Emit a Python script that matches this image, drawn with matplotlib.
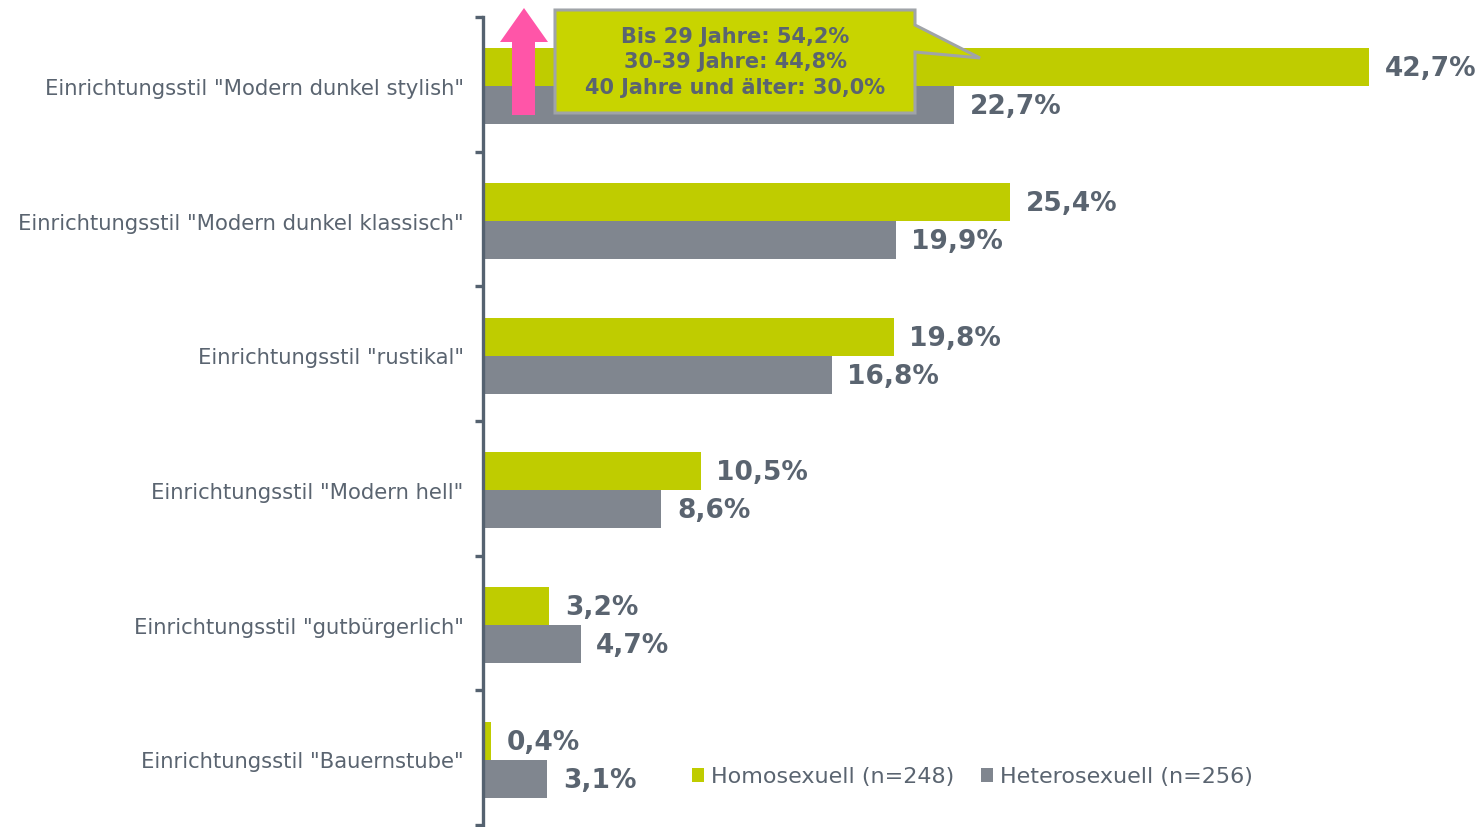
import matplotlib.pyplot as plt
from matplotlib.patches import Polygon
import numpy as np

# ------------------- Data -------------------
categories = [
    'Einrichtungsstil "Modern dunkel stylish"',
    'Einrichtungsstil "Modern dunkel klassisch"',
    'Einrichtungsstil "rustikal"',
    'Einrichtungsstil "Modern hell"',
    'Einrichtungsstil "gutbürgerlich"',
    'Einrichtungsstil "Bauernstube"',
]
homo = [42.7, 25.4, 19.8, 10.5, 3.2, 0.4]
hetero = [22.7, 19.9, 16.8, 8.6, 4.7, 3.1]
series_names = ["Homosexuell (n=248)", "Heterosexuell (n=256)"]
callout_lines = ["Bis 29 Jahre: 54,2%", "30-39 Jahre: 44,8%", "40 Jahre und älter: 30,0%"]

GREEN = "#BFCC00"
GRAY = "#80868F"
TEXT = "#5A6470"
SPINE = "#556270"

W, H = 1484, 827
fig = plt.figure(figsize=(W / 100, H / 100), dpi=100)
ax = fig.add_axes([483 / W, 2 / H, 1 - 483 / W, 808 / H])

y = np.arange(len(categories))
bh = 0.282
ax.barh(y - bh / 2 + 0.015, homo, height=bh, color=GREEN, label=series_names[0])
ax.barh(y + bh / 2 + 0.015, hetero, height=bh, color=GRAY, label=series_names[1])

ax.set_xlim(0, (W - 483) / 20.75)
ax.set_ylim(len(categories) - 0.5, -0.5)

off = 0.75
for i in range(len(categories)):
    ax.text(homo[i] + off, y[i] - bh / 2 + 0.03, f"{homo[i]:.1f}%".replace(".", ","),
            va="center", ha="left", fontsize=19, fontweight="bold", color=TEXT)
    ax.text(hetero[i] + off, y[i] + bh / 2 + 0.03, f"{hetero[i]:.1f}%".replace(".", ","),
            va="center", ha="left", fontsize=19, fontweight="bold", color=TEXT)

# spines and ticks
for s in ["top", "right", "bottom"]:
    ax.spines[s].set_visible(False)
ax.spines["left"].set_color(SPINE)
ax.spines["left"].set_linewidth(2.4)
ax.set_xticks([])
ax.set_yticks(np.arange(-0.5, len(categories)), labels=[])
ax.tick_params(axis="y", which="major", length=6, width=2.4, color=SPINE)
ax.set_yticks(y + 0.02, labels=categories, minor=True)
ax.tick_params(axis="y", which="minor", length=0, pad=14, labelsize=15.2, labelcolor=TEXT)

# legend
ax.legend(loc="center left", bbox_to_anchor=(692 / W, 1 - 777 / H), bbox_transform=fig.transFigure,
          ncol=2, frameon=False, fontsize=16, labelcolor=TEXT, handlelength=0.55, handleheight=0.55,
          handletextpad=0.3, columnspacing=1.2, borderaxespad=0, borderpad=0)


def px(pts):
    return [(x / W, 1 - yy / H) for x, yy in pts]


# pink arrow
arrow = [(512, 115), (535, 115), (535, 42), (548, 42), (524, 8), (500, 42), (512, 42)]
fig.patches.append(Polygon(px(arrow), closed=True, facecolor="#FF55A8", edgecolor="none",
                           transform=fig.transFigure, zorder=5))

# callout box
box = [(555, 10), (915, 10), (915, 25), (980, 58), (915, 52), (915, 113), (555, 113)]
fig.patches.append(Polygon(px(box), closed=True, facecolor="#C8D400", edgecolor="#A0A4A8",
                           linewidth=2.2, transform=fig.transFigure, zorder=6))
for k, line in enumerate(callout_lines):
    fig.text(735 / W, 1 - (37 + 25.5 * k) / H, line, ha="center", va="center",
             fontsize=15, fontweight="bold", color=TEXT, zorder=7)

fig.savefig("out.png", dpi=100)
